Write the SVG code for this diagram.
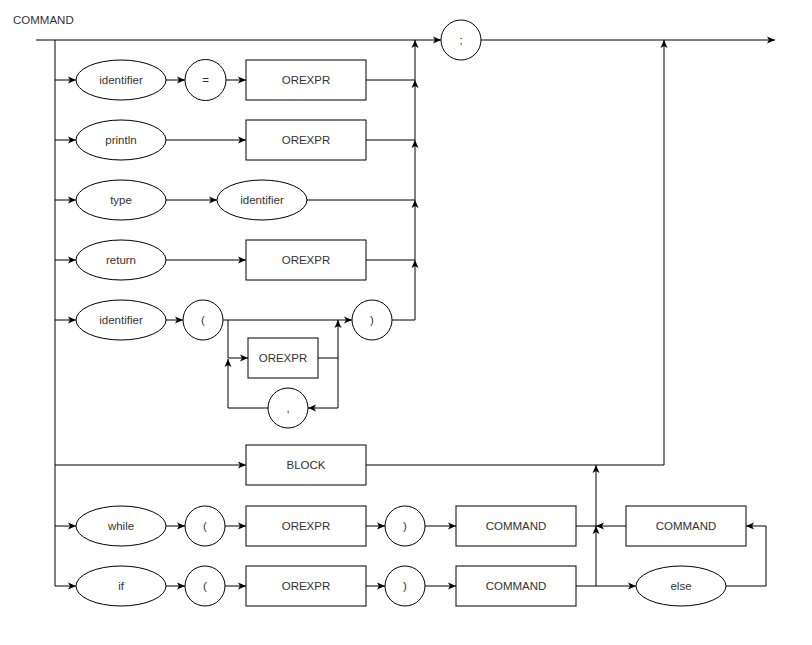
<svg xmlns="http://www.w3.org/2000/svg" width="812" height="645" viewBox="0 0 812 645">
<style>
.s{fill:#fff;stroke:#000;stroke-width:1}
.t{font-family:"Liberation Sans",Arial,sans-serif;font-size:11.5px;fill:#333;text-anchor:middle;dominant-baseline:central}
.e{fill:none;stroke:#000;stroke-width:1;marker-end:url(#a)}
.l{fill:none;stroke:#000;stroke-width:1}
</style>
<defs>
<marker id="a" markerUnits="userSpaceOnUse" markerWidth="9" markerHeight="8" refX="8" refY="4" orient="auto">
<path d="M0,0.5 L8,4 L0,7.5 L2,4 Z" fill="#000"/>
</marker>
</defs>
<rect width="812" height="645" fill="#fff"/>
<text x="13" y="19.5" font-family="Liberation Sans,Arial,sans-serif" font-size="11.5" fill="#333" dominant-baseline="central">COMMAND</text>
<g id="connectors">
<path class="e" d="M36,40 H441"/>
<path class="e" d="M481,40 H775"/>
<path class="l" d="M55,40 V586"/>
<path class="e" d="M55,80 H76"/>
<path class="e" d="M55,140 H76"/>
<path class="e" d="M55,200 H76"/>
<path class="e" d="M55,260 H76"/>
<path class="e" d="M55,320 H76"/>
<path class="e" d="M55,465 H246"/>
<path class="e" d="M55,526 H76"/>
<path class="e" d="M55,586 H76"/>
<path class="e" d="M166,80 H185"/>
<path class="e" d="M226,80 H246"/>
<path class="e" d="M366,80 H415 V40"/>
<path class="e" d="M166,140 H246"/>
<path class="e" d="M366,140 H415 V80"/>
<path class="e" d="M166,200 H217"/>
<path class="e" d="M307,200 H415 V140"/>
<path class="e" d="M166,260 H246"/>
<path class="e" d="M366,260 H415 V200"/>
<path class="e" d="M166,320 H183"/>
<path class="e" d="M223,320 H352"/>
<path class="e" d="M392,320 H415 V260"/>
<path class="e" d="M228,320 V358 H248"/>
<path class="e" d="M318,358 H338 V320"/>
<path class="e" d="M338,358 V408 H308"/>
<path class="e" d="M268,408 H228 V359"/>
<path class="e" d="M366,465 H664 V40"/>
<path class="e" d="M166,526 H185"/>
<path class="e" d="M225,526 H246"/>
<path class="e" d="M366,526 H385"/>
<path class="e" d="M425,526 H456"/>
<path class="e" d="M576,526 H596 V465"/>
<path class="e" d="M626,526 H596"/>
<path class="e" d="M166,586 H185"/>
<path class="e" d="M225,586 H246"/>
<path class="e" d="M366,586 H385"/>
<path class="e" d="M425,586 H456"/>
<path class="e" d="M576,586 H596 V526"/>
<path class="e" d="M596,586 H636"/>
<path class="e" d="M726,586 H766 V526 H746"/>
</g>
<g id="semicolon"><circle class="s" cx="461" cy="40" r="20"/><text class="t" x="461" y="40">;</text></g>
<g id="r1-identifier"><ellipse class="s" cx="121" cy="80" rx="45" ry="20"/><text class="t" x="121" y="80">identifier</text></g>
<g id="r1-eq"><circle class="s" cx="205.5" cy="80" r="20.5"/><text class="t" x="205.5" y="80">=</text></g>
<g id="r1-orexpr"><rect class="s" x="246" y="60" width="120" height="40"/><text class="t" x="306" y="80">OREXPR</text></g>
<g id="r2-println"><ellipse class="s" cx="121" cy="140" rx="45" ry="20"/><text class="t" x="121" y="140">println</text></g>
<g id="r2-orexpr"><rect class="s" x="246" y="120" width="120" height="40"/><text class="t" x="306" y="140">OREXPR</text></g>
<g id="r3-type"><ellipse class="s" cx="121" cy="200" rx="45" ry="20"/><text class="t" x="121" y="200">type</text></g>
<g id="r3-identifier"><ellipse class="s" cx="262" cy="200" rx="45" ry="20"/><text class="t" x="262" y="200">identifier</text></g>
<g id="r4-return"><ellipse class="s" cx="121" cy="260" rx="45" ry="20"/><text class="t" x="121" y="260">return</text></g>
<g id="r4-orexpr"><rect class="s" x="246" y="240" width="120" height="40"/><text class="t" x="306" y="260">OREXPR</text></g>
<g id="r5-identifier"><ellipse class="s" cx="121" cy="320" rx="45" ry="20"/><text class="t" x="121" y="320">identifier</text></g>
<g id="r5-lparen"><circle class="s" cx="203" cy="320" r="20"/><text class="t" x="203" y="320">(</text></g>
<g id="r5-rparen"><circle class="s" cx="372" cy="320" r="20"/><text class="t" x="372" y="320">)</text></g>
<g id="r5-orexpr"><rect class="s" x="248" y="338" width="70" height="40"/><text class="t" x="283" y="358">OREXPR</text></g>
<g id="r5-comma"><circle class="s" cx="288" cy="408" r="20"/><text class="t" x="288" y="408">,</text></g>
<g id="block"><rect class="s" x="246" y="445" width="120" height="40"/><text class="t" x="306" y="465">BLOCK</text></g>
<g id="w-while"><ellipse class="s" cx="121" cy="526" rx="45" ry="20"/><text class="t" x="121" y="526">while</text></g>
<g id="w-lparen"><circle class="s" cx="205" cy="526" r="20"/><text class="t" x="205" y="526">(</text></g>
<g id="w-orexpr"><rect class="s" x="246" y="506" width="120" height="40"/><text class="t" x="306" y="526">OREXPR</text></g>
<g id="w-rparen"><circle class="s" cx="405" cy="526" r="20"/><text class="t" x="405" y="526">)</text></g>
<g id="w-command"><rect class="s" x="456" y="506" width="120" height="40"/><text class="t" x="516" y="526">COMMAND</text></g>
<g id="else-command"><rect class="s" x="626" y="506" width="120" height="40"/><text class="t" x="686" y="526">COMMAND</text></g>
<g id="i-if"><ellipse class="s" cx="121" cy="586" rx="45" ry="20"/><text class="t" x="121" y="586">if</text></g>
<g id="i-lparen"><circle class="s" cx="205" cy="586" r="20"/><text class="t" x="205" y="586">(</text></g>
<g id="i-orexpr"><rect class="s" x="246" y="566" width="120" height="40"/><text class="t" x="306" y="586">OREXPR</text></g>
<g id="i-rparen"><circle class="s" cx="405" cy="586" r="20"/><text class="t" x="405" y="586">)</text></g>
<g id="i-command"><rect class="s" x="456" y="566" width="120" height="40"/><text class="t" x="516" y="586">COMMAND</text></g>
<g id="i-else"><ellipse class="s" cx="681" cy="586" rx="45" ry="20"/><text class="t" x="681" y="586">else</text></g>
</svg>
